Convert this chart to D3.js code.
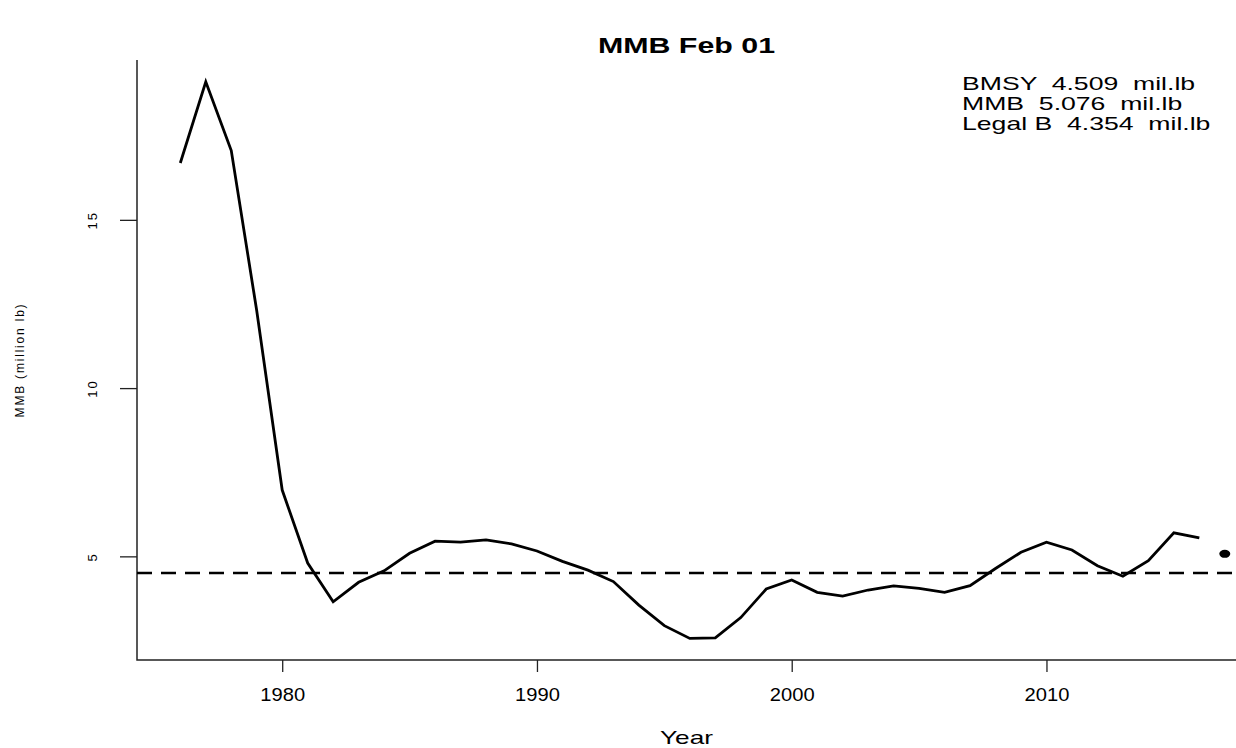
<!DOCTYPE html>
<html>
<head>
<meta charset="utf-8">
<script src="https://cdn.jsdelivr.net/npm/d3@7"></script>
<style>
    body { margin: 0; background: #fff; }
    text { font-family: "Liberation Sans", Arial, sans-serif; fill: #000; }
</style>
</head>
<body>
<div id="chart"></div>
<script>
// MMB by year
const years = [1976, 1977, 1978, 1979, 1980, 1981, 1982, 1983, 1984, 1985,
    1986, 1987, 1988, 1989, 1990, 1991, 1992, 1993, 1994, 1995,
    1996, 1997, 1998, 1999, 2000, 2001, 2002, 2003, 2004, 2005,
    2006, 2007, 2008, 2009, 2010, 2011, 2012, 2013, 2014, 2015, 2016];
const mmb = [16.69, 19.10, 17.06, 12.3, 6.97, 4.80, 3.65, 4.23, 4.57, 5.09,
    5.45, 5.42, 5.49, 5.37, 5.16, 4.85, 4.59, 4.25, 3.55, 2.94,
    2.56, 2.58, 3.18, 4.03, 4.30, 3.93, 3.82, 4.00, 4.12, 4.05,
    3.93, 4.13, 4.64, 5.12, 5.42, 5.19, 4.72, 4.41, 4.87, 5.70, 5.55];

const projYear = [2017];
const projMmb = [5.076];
const bmsy = 4.509;

const legendLines = ["BMSY  4.509  mil.lb", "MMB  5.076  mil.lb", "Legal B  4.354  mil.lb"];
const yTicks = [5, 10, 15];
const xTicks = [1980, 1990, 2000, 2010];

// the R device drew its text wider than Arial, so stretch it sideways
const stretch = (sel, k) => {
    sel.each(function () {
        const w = this.getComputedTextLength();
        d3.select(this).attr("textLength", w * k).attr("lengthAdjust", "spacingAndGlyphs");
    });
}

const render = () => {
    const width = 1236, height = 748;
    const left = 137, right = 1236, top = 60, bottom = 660;

    let svg = d3.select("#chart").append("svg")
        .attr("width", width)
        .attr("height", height);

    // R style: 4% padding on the data range
    const x = d3.scaleLinear().domain([1974.3, 2017.44]).range([left, right]);
    const y = d3.scaleLinear().domain([1.92, 19.75]).range([bottom, top]);

    // L shaped box
    svg.append("path")
        .attr("d", `M${left},${top}V${bottom}H${right}`)
        .attr("fill", "none")
        .attr("stroke", "#222")
        .attr("stroke-width", 1.5);

    // x axis
    let xa = svg.append("g")
        .attr("transform", `translate(0,${bottom})`)
        .call(d3.axisBottom(x).tickValues(xTicks).tickFormat(d3.format("d")).tickSize(12).tickPadding(16));
    xa.select(".domain").remove();
    xa.selectAll("line").attr("stroke", "#222").attr("stroke-width", 1.3);
    xa.selectAll("text").attr("font-size", 19).attr("fill", "#000").call(stretch, 1.06);

    // y axis, labels turned like R's las=0
    let ya = svg.append("g")
        .attr("transform", `translate(${left},0)`)
        .call(d3.axisLeft(y).tickValues(yTicks).tickSize(17).tickFormat(d3.format("d")));
    ya.select(".domain").remove();
    ya.selectAll("line").attr("stroke", "#222").attr("stroke-width", 1.3);
    ya.selectAll("text")
        .attr("font-size", 13)
        .attr("letter-spacing", 2)
        .attr("fill", "#000")
        .attr("text-anchor", "middle")
        .attr("x", 0).attr("dy", 0)
        .attr("transform", "translate(-43,0) rotate(-90)")
        .attr("dominant-baseline", "middle");

    // BMSY reference line
    svg.append("line")
        .attr("x1", left).attr("x2", right)
        .attr("y1", y(bmsy)).attr("y2", y(bmsy))
        .attr("stroke", "#000")
        .attr("stroke-width", 2.5)
        .attr("stroke-dasharray", "15,9");

    const line = d3.line().x((d, i) => x(years[i])).y(d => y(d));
    svg.append("path")
        .datum(mmb)
        .attr("d", line)
        .attr("fill", "none")
        .attr("stroke", "#000")
        .attr("stroke-width", 2.8)
        .attr("stroke-linejoin", "miter");

    svg.selectAll(".proj")
        .data(projMmb)
        .join("ellipse")
        .attr("cx", (d, i) => x(projYear[i]))
        .attr("cy", d => y(d))
        .attr("rx", 5.5).attr("ry", 4)
        .attr("fill", "#000");

    // title + axis titles
    svg.append("text")
        .attr("x", (left + right) / 2).attr("y", 53)
        .attr("text-anchor", "middle")
        .attr("font-weight", "bold")
        .attr("font-size", 22)
        .text("MMB Feb 01")
        .call(stretch, 1.38);

    svg.append("text")
        .attr("x", (left + right) / 2).attr("y", 744)
        .attr("text-anchor", "middle")
        .attr("font-size", 19)
        .text("Year")
        .call(stretch, 1.38);

    svg.append("text")
        .attr("transform", `translate(24,${(top + bottom) / 2}) rotate(-90)`)
        .attr("text-anchor", "middle")
        .attr("font-size", 12)
        .attr("letter-spacing", 1.8)
        .text("MMB (million lb)");

    // legend text, top right
    svg.append("g")
        .selectAll("text")
        .data(legendLines)
        .join("text")
        .attr("x", 962)
        .attr("y", (d, i) => 90 + i * 20)
        .attr("font-size", 19)
        .style("white-space", "pre")
        .text(d => d)
        .call(stretch, 1.4);
}

render();
</script>
</body>
</html>
